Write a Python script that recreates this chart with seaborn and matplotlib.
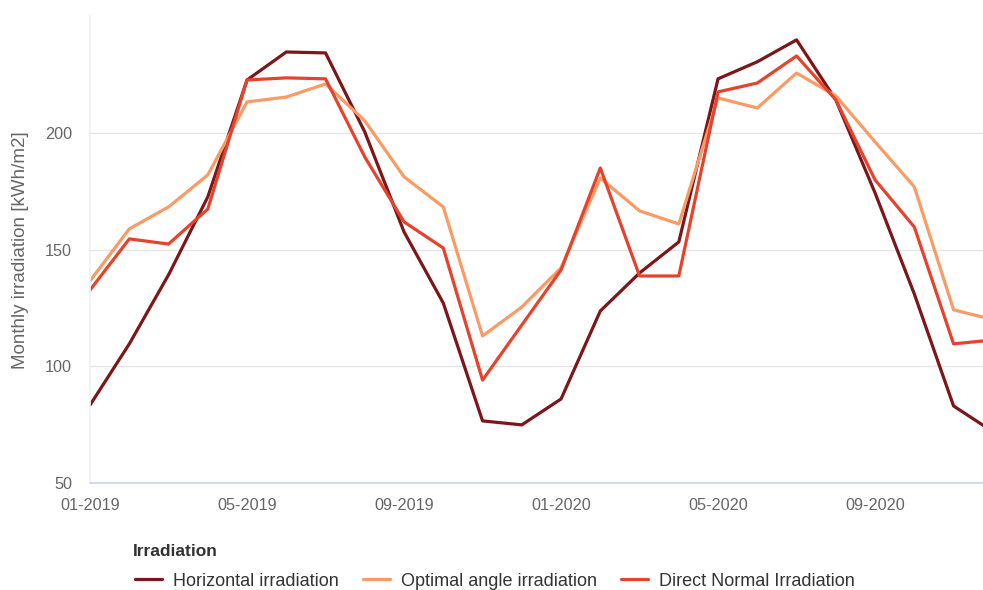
import numpy as np
import pandas as pd
import matplotlib.pyplot as plt
import seaborn as sns

# monthly values, 01-2019 .. 12-2020
months = pd.date_range('2019-01-01', periods=24, freq='MS').strftime('%m-%Y').tolist()
horizontal = [83.4, 109.6, 139.2, 172.6, 222.7, 234.7, 234.3, 200.4, 157.6, 127.1, 76.6, 74.9,
              86.0, 123.7, 140.0, 153.3, 223.2, 230.5, 239.9, 214.2, 174.3, 131.0, 83.0, 72.0]
optimal = [136.6, 158.9, 168.3, 182.0, 213.3, 215.4, 221.0, 205.2, 181.2, 168.3, 113.0, 125.4,
           142.2, 180.7, 166.6, 161.0, 215.0, 210.7, 225.7, 215.9, 196.2, 176.9, 124.2, 120.0]
direct_normal = [132.7, 154.6, 152.4, 167.4, 222.7, 223.6, 223.2, 189.7, 161.9, 150.7, 94.1, 117.7,
                 141.3, 185.0, 138.7, 138.7, 217.6, 221.4, 233.0, 214.2, 179.9, 159.7, 109.6, 111.3]
series_names = ['Horizontal irradiation', 'Optimal angle irradiation', 'Direct Normal Irradiation']
tick_labels = ['01-2019', '05-2019', '09-2019', '01-2020', '05-2020', '09-2020']
y_ticks = [50, 100, 150, 200]

colors = ['#7d1619', '#fa9b66', '#e6432d']

df = pd.DataFrame({'month': months,
                   series_names[0]: horizontal,
                   series_names[1]: optimal,
                   series_names[2]: direct_normal})
df['idx'] = np.arange(len(months))
long_df = df.melt(id_vars=['month', 'idx'], var_name='Irradiation', value_name='value')

sns.set_theme(style='white')
plt.rcParams['font.family'] = ['Liberation Sans', 'DejaVu Sans']

fig = plt.figure(figsize=(9.83, 5.9), dpi=100)
ax = fig.add_axes([0.0916, 0.1814, 0.9084, 0.791])

sns.lineplot(data=long_df, x='idx', y='value', hue='Irradiation', hue_order=series_names,
             palette=colors, linewidth=2.3, ax=ax, legend=True)

ax.set_xlim(0, 22.75)
ax.set_ylim(50, 250)
ax.set_yticks(y_ticks)
ax.set_xticks([months.index(t) for t in tick_labels])
ax.set_xticklabels(tick_labels)
ax.grid(axis='y', color='#e6e6e6', linewidth=1)
ax.set_axisbelow(True)
for s in ['top', 'right']:
    ax.spines[s].set_visible(False)
ax.spines['left'].set_color('#eef1f7')
ax.spines['bottom'].set_color('#ccd6eb')
ax.tick_params(axis='x', length=8, color='#ccd6eb', colors='#666666', labelsize=11.7, pad=3)
ax.tick_params(axis='y', length=0, colors='#666666', labelsize=11.7, pad=13)
ax.set_xlabel('')
ax.set_ylabel('Monthly irradiation [kWh/m2]', color='#666666', fontsize=13.5)
ax.yaxis.set_label_coords(-0.068, 0.5)

handles, labels = ax.get_legend_handles_labels()
ax.get_legend().remove()
fig.text(133 / 983, 1 - 552 / 590, 'Irradiation', fontsize=12.5, fontweight='bold',
         color='#333333', ha='left', va='center')
leg = fig.legend(handles, labels, loc='center left',
                 bbox_to_anchor=(0.128, 1 - 581 / 590), ncol=3, frameon=False, fontsize=13,
                 handlelength=1.5, columnspacing=1.35, handletextpad=0.6, borderpad=0)
for t in leg.get_texts():
    t.set_color('#333333')

fig.savefig('out.png', dpi=100)
